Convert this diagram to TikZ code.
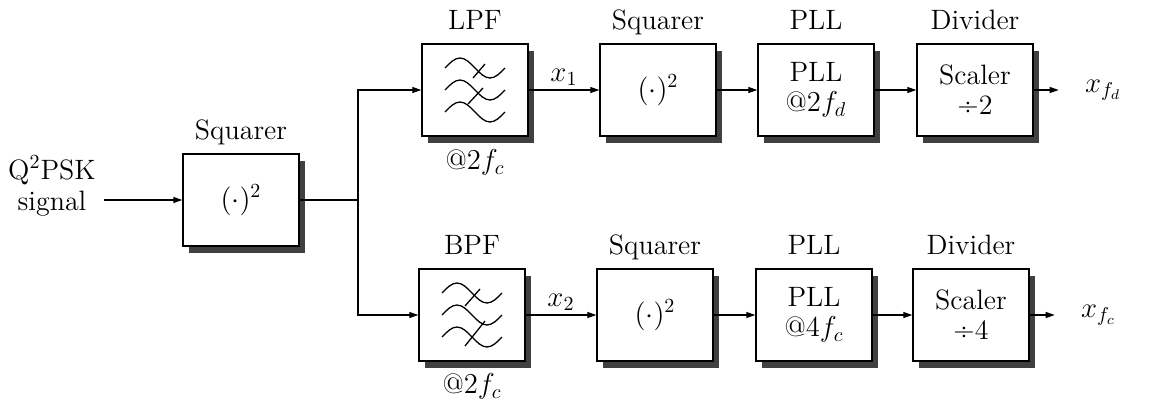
\documentclass[tikz,border=0pt]{standalone}
\usetikzlibrary{arrows.meta,shadows}
\begin{document}
\begin{tikzpicture}[x=0.5pt,y=-0.5pt,
  every node/.style={font=\fontsize{14}{16}\selectfont},
  blk/.style={draw,fill=white,line width=0.7pt,minimum width=58pt,minimum height=46pt,
    align=center,inner sep=0pt,font=\fontsize{14}{15}\selectfont,
    drop shadow={shadow xshift=3pt,shadow yshift=-3.5pt,fill=black!75,opacity=1}},
  flt/.style={blk,minimum width=53pt},
  arr/.style={line width=0.6pt,-{Triangle[length=4.5pt,width=3pt]}},
  ln/.style={line width=0.6pt},
  wave/.style={line width=0.65pt},
  ttl/.style={anchor=base,inner sep=0pt},
]
\useasboundingbox (0,0) rectangle (1152,408);

% input
\node[align=center,inner sep=0pt,font=\fontsize{14}{15.5}\selectfont] (sig) at (52,186) {Q$^2$PSK\\signal};

% blocks
\node[blk] (sq0) at (241,200) {$(\cdot)^2$};
\node[flt] (lpf) at (475,90) {};
\node[blk] (sq1) at (658,90) {$(\cdot)^2$};
\node[blk] (pll1) at (816,90) {PLL\\@$2f_d$};
\node[blk] (div1) at (975,90) {Scaler\\÷2};

\node[flt] (bpf) at (472,315) {};
\node[blk] (sq2) at (655,315) {$(\cdot)^2$};
\node[blk] (pll2) at (814,315) {PLL\\@$4f_c$};
\node[blk] (div2) at (971,315) {Scaler\\÷4};

% titles
\node[ttl] at ([yshift=7pt]sq0.north) {Squarer};
\node[ttl] at ([yshift=7pt]lpf.north) {LPF};
\node[ttl] at ([yshift=7pt]sq1.north) {Squarer};
\node[ttl] at ([yshift=7pt]pll1.north) {PLL};
\node[ttl] at ([yshift=7pt]div1.north) {Divider};
\node[ttl] at ([yshift=7pt]bpf.north) {BPF};
\node[ttl] at ([yshift=7pt]sq2.north) {Squarer};
\node[ttl] at ([yshift=7pt]pll2.north) {PLL};
\node[ttl] at ([yshift=7pt]div2.north) {Divider};
\node[ttl] at ([yshift=-16.5pt]lpf.south) {@$2f_c$};
\node[ttl] at ([yshift=-16pt]bpf.south) {@$2f_c$};

% filter symbols
\foreach \n in {lpf,bpf}{
  \foreach \dy in {-22,0,22}{
    \draw[wave] ([shift={(-30,\dy)}]\n.center) sin ++(15,-10) cos ++(15,10) sin ++(15,10) cos ++(15,-10);
  }
}
\draw[wave] ([shift={(-2,-12)}]lpf.center) -- ([shift={(10,-26)}]lpf.center);
\draw[wave] ([shift={(-7,14)}]lpf.center) -- ([shift={(8,-2)}]lpf.center);
\draw[wave] ([shift={(-7,-9)}]bpf.center) -- ([shift={(8,-26)}]bpf.center);
\draw[wave] ([shift={(-7,31)}]bpf.center) -- ([shift={(13,6)}]bpf.center);

% connectors
\draw[arr] ([xshift=4pt]sig.east |- sq0.west) -- (sq0.west);
\coordinate (br) at (358,200);
\draw[ln] (sq0.east) -- (br);
\draw[arr] (br) |- (lpf.west);
\draw[arr] (br) |- (bpf.west);

\draw[arr] (lpf.east) -- node[above=1pt,inner sep=1pt] {$x_1$} (sq1.west);
\draw[arr] (sq1.east) -- (pll1.west);
\draw[arr] (pll1.east) -- (div1.west);
\draw[arr] (div1.east) -- ++(25,0) coordinate (o1);
\node[anchor=west,inner sep=0pt] (xfd) at ([xshift=13pt]o1) {$x_{f_d}$};

\draw[arr] (bpf.east) -- node[above=1pt,inner sep=1pt] {$x_2$} (sq2.west);
\draw[arr] (sq2.east) -- (pll2.west);
\draw[arr] (pll2.east) -- (div2.west);
\draw[arr] (div2.east) -- ++(25,0) coordinate (o2);
\node[anchor=west,inner sep=0pt] (xfc) at ([xshift=13pt]o2) {$x_{f_c}$};
\end{tikzpicture}
\end{document}
